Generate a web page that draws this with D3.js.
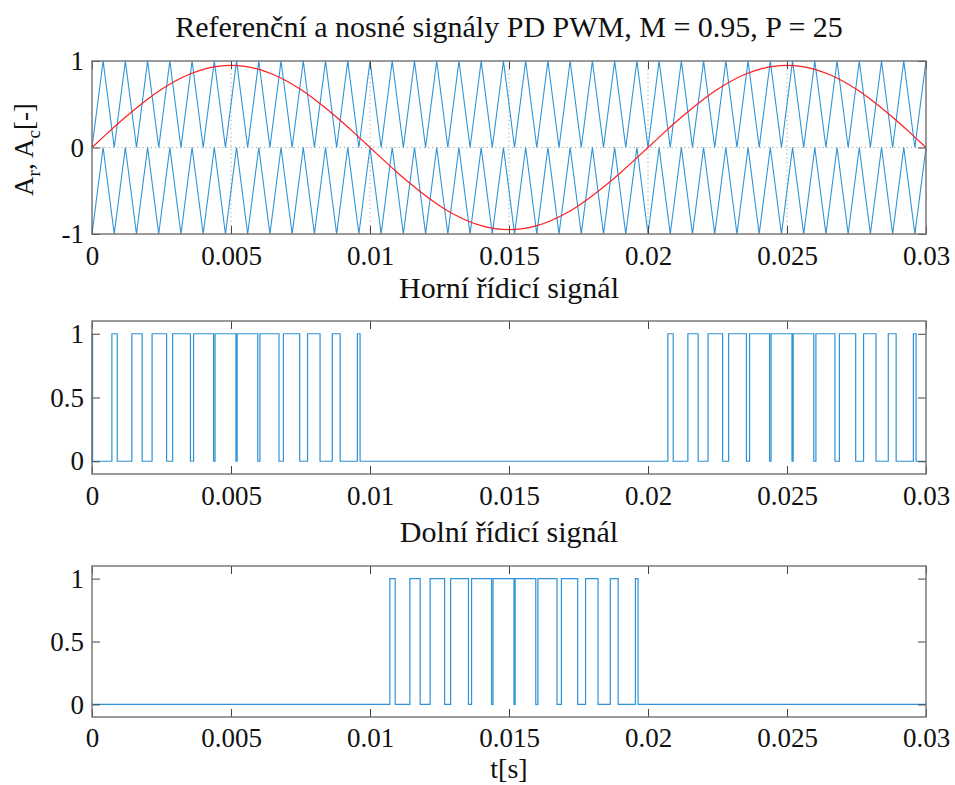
<!DOCTYPE html>
<html>
<head>
<meta charset="utf-8">
<script src="https://cdn.jsdelivr.net/npm/d3@7"></script>
<style>
  body { margin: 0; background: #fff; }
  svg { display: block; }
  text { font-family: "Liberation Serif", "Times New Roman", serif; fill: #111; }
</style>
</head>
<body>
<svg id="chart" width="955" height="785"></svg>
<script>
// ---- axis ticks ----
const timeTicks = [0, 0.005, 0.01, 0.015, 0.02, 0.025, 0.03];
const timeTickLabels = ["0", "0.005", "0.01", "0.015", "0.02", "0.025", "0.03"];
const signalTicks = [-1, 0, 1];
const signalTickLabels = ["-1", "0", "1"];
const gateTicks = [0, 0.5, 1];
const gateTickLabels = ["0", "0.5", "1"];

// ---- reference signal samples (t [s], A_r) ----
const refTime = [
  0, 0.0005, 0.001, 0.0015, 0.002, 0.0025, 0.003, 0.0035, 0.004, 0.0045,
  0.005, 0.0055, 0.006, 0.0065, 0.007, 0.0075, 0.008, 0.0085, 0.009, 0.0095,
  0.01, 0.0105, 0.011, 0.0115, 0.012, 0.0125, 0.013, 0.0135, 0.014, 0.0145,
  0.015, 0.0155, 0.016, 0.0165, 0.017, 0.0175, 0.018, 0.0185, 0.019, 0.0195,
  0.02, 0.0205, 0.021, 0.0215, 0.022, 0.0225, 0.023, 0.0235, 0.024, 0.0245,
  0.025, 0.0255, 0.026, 0.0265, 0.027, 0.0275, 0.028, 0.0285, 0.029, 0.0295,
  0.03
];
const refValue = [
  0, 0.149, 0.294, 0.431, 0.558, 0.672, 0.769, 0.846, 0.904, 0.938,
  0.95, 0.938, 0.904, 0.846, 0.769, 0.672, 0.558, 0.431, 0.294, 0.149,
  0, -0.149, -0.294, -0.431, -0.558, -0.672, -0.769, -0.846, -0.904, -0.938,
  -0.95, -0.938, -0.904, -0.846, -0.769, -0.672, -0.558, -0.431, -0.294, -0.149,
  0, 0.149, 0.294, 0.431, 0.558, 0.672, 0.769, 0.846, 0.904, 0.938,
  0.95, 0.938, 0.904, 0.846, 0.769, 0.672, 0.558, 0.431, 0.294, 0.149,
  0
];

// ---- carrier vertices (t [s]) and levels of the two in-phase carriers ----
const carrierTime = [
  0, 0.0004, 0.0008, 0.0012, 0.0016, 0.002, 0.0024, 0.0028, 0.0032, 0.0036,
  0.004, 0.0044, 0.0048, 0.0052, 0.0056, 0.006, 0.0064, 0.0068, 0.0072, 0.0076,
  0.008, 0.0084, 0.0088, 0.0092, 0.0096, 0.01, 0.0104, 0.0108, 0.0112, 0.0116,
  0.012, 0.0124, 0.0128, 0.0132, 0.0136, 0.014, 0.0144, 0.0148, 0.0152, 0.0156,
  0.016, 0.0164, 0.0168, 0.0172, 0.0176, 0.018, 0.0184, 0.0188, 0.0192, 0.0196,
  0.02, 0.0204, 0.0208, 0.0212, 0.0216, 0.022, 0.0224, 0.0228, 0.0232, 0.0236,
  0.024, 0.0244, 0.0248, 0.0252, 0.0256, 0.026, 0.0264, 0.0268, 0.0272, 0.0276,
  0.028, 0.0284, 0.0288, 0.0292, 0.0296, 0.03
];
const carrierUpper = [
  0, 1, 0, 1, 0, 1, 0, 1, 0, 1, 0, 1, 0, 1, 0, 1, 0, 1, 0, 1,
  0, 1, 0, 1, 0, 1, 0, 1, 0, 1, 0, 1, 0, 1, 0, 1, 0, 1, 0, 1,
  0, 1, 0, 1, 0, 1, 0, 1, 0, 1, 0, 1, 0, 1, 0, 1, 0, 1, 0, 1,
  0, 1, 0, 1, 0, 1, 0, 1, 0, 1, 0, 1, 0, 1, 0, 1
];
const carrierLower = [
  -1, 0, -1, 0, -1, 0, -1, 0, -1, 0, -1, 0, -1, 0, -1, 0, -1, 0, -1, 0,
  -1, 0, -1, 0, -1, 0, -1, 0, -1, 0, -1, 0, -1, 0, -1, 0, -1, 0, -1, 0,
  -1, 0, -1, 0, -1, 0, -1, 0, -1, 0, -1, 0, -1, 0, -1, 0, -1, 0, -1, 0,
  -1, 0, -1, 0, -1, 0, -1, 0, -1, 0, -1, 0, -1, 0, -1, 0
];

// ---- gate signals: switch-on and switch-off instants [s] ----
const upperGateOn = [
  0, 0.000715, 0.001434, 0.002161, 0.0029, 0.003654, 0.004426, 0.005221, 0.00604,
  0.006885, 0.007754, 0.008643, 0.009546,
  0.020715, 0.021434, 0.022161, 0.0229, 0.023654, 0.024426, 0.025221, 0.02604,
  0.026885, 0.027754, 0.028643, 0.029546
];
const upperGateOff = [
  0.00002, 0.000907, 0.001804, 0.002684, 0.003541, 0.004373, 0.005179, 0.005963, 0.006726,
  0.007471, 0.008203, 0.008926, 0.009643,
  0.020907, 0.021804, 0.022684, 0.023541, 0.024373, 0.025179, 0.025963, 0.026726,
  0.027471, 0.028203, 0.028926, 0.029643
];
const lowerGateOn = [
  0.010715, 0.011434, 0.012161, 0.0129, 0.013654, 0.014426, 0.015221, 0.01604,
  0.016885, 0.017754, 0.018643, 0.019546
];
const lowerGateOff = [
  0.010907, 0.011804, 0.012684, 0.013541, 0.014373, 0.015179, 0.015963, 0.016726,
  0.017471, 0.018203, 0.018926, 0.019643
];

// ---- layout ----
const plotLeft = 92, plotRight = 926;
const panels = {
  carriers: { top: 61, bottom: 234, pad: 12 },
  upper: { top: 321, bottom: 474, pad: 12 },
  lower: { top: 566, bottom: 717, pad: 11 }
};
const blue = "#2f93d6";
const red = "#ff1f1f";
const frameColor = "#707070";
const tickColor = "#444";
const serif = '"Liberation Serif", "Times New Roman", serif';
const tickFont = 27;
const titleFont = 30;

const svg = d3.select("#chart");
const x = d3.scaleLinear().domain([0, 0.03]).range([plotLeft, plotRight]);

function drawGrid(g, y, yTicks, p) {
  const gg = g.append("g").attr("stroke", "#9a9a9a").attr("stroke-width", 0.9)
    .attr("stroke-dasharray", "1.2,3");
  timeTicks.slice(1, -1).forEach(t => {
    gg.append("line").attr("x1", x(t)).attr("x2", x(t)).attr("y1", p.top).attr("y2", p.bottom);
  });
  yTicks.slice(1, -1).forEach(v => {
    gg.append("line").attr("x1", plotLeft).attr("x2", plotRight).attr("y1", y(v)).attr("y2", y(v));
  });
}

function drawFrame(g, y, yTicks, yLabels, p) {
  const tickLen = 8;
  const bx = g.append("g").attr("transform", `translate(0,${p.bottom})`)
    .call(d3.axisBottom(x).tickValues(timeTicks).tickFormat((d, i) => timeTickLabels[i])
      .tickSizeInner(-tickLen).tickSizeOuter(0).tickPadding(p.pad));
  const tx = g.append("g").attr("transform", `translate(0,${p.top})`)
    .call(d3.axisTop(x).tickValues(timeTicks).tickFormat("")
      .tickSizeInner(-tickLen).tickSizeOuter(0));
  const ly = g.append("g").attr("transform", `translate(${plotLeft},0)`)
    .call(d3.axisLeft(y).tickValues(yTicks).tickFormat((d, i) => yLabels[i])
      .tickSizeInner(-tickLen).tickSizeOuter(0).tickPadding(8));
  const ry = g.append("g").attr("transform", `translate(${plotRight},0)`)
    .call(d3.axisRight(y).tickValues(yTicks).tickFormat("")
      .tickSizeInner(-tickLen).tickSizeOuter(0));
  [bx, tx, ly, ry].forEach(a => {
    a.select(".domain").remove();
    a.selectAll(".tick line").attr("stroke", tickColor).attr("stroke-width", 1);
    a.selectAll("text").attr("font-size", tickFont).style("font-family", serif).attr("fill", "#111");
  });
  g.append("rect").attr("x", plotLeft).attr("y", p.top)
    .attr("width", plotRight - plotLeft).attr("height", p.bottom - p.top)
    .attr("fill", "none").attr("stroke", frameColor).attr("stroke-width", 1.4);
}

// ---- panel 1: reference and carriers ----
{
  const p = panels.carriers;
  const y = d3.scaleLinear().domain([-1, 1]).range([p.bottom, p.top]);
  const g = svg.append("g");
  drawGrid(g, y, signalTicks, p);
  const line = d3.line().x(d => x(d[0])).y(d => y(d[1]));
  g.append("path").attr("d", line(carrierTime.map((t, i) => [t, carrierUpper[i]])))
    .attr("fill", "none").attr("stroke", blue).attr("stroke-width", 1.1);
  g.append("path").attr("d", line(carrierTime.map((t, i) => [t, carrierLower[i]])))
    .attr("fill", "none").attr("stroke", blue).attr("stroke-width", 1.1);
  const refLine = d3.line().x(d => x(d[0])).y(d => y(d[1])).curve(d3.curveNatural);
  g.append("path").attr("d", refLine(refTime.map((t, i) => [t, refValue[i]])))
    .attr("fill", "none").attr("stroke", red).attr("stroke-width", 1.2);
  drawFrame(svg.append("g"), y, signalTicks, signalTickLabels, p);

  // y label: A_r, A_c[-]
  const yl = svg.append("text")
    .attr("transform", `translate(33,${(p.top + p.bottom) / 2 + 2}) rotate(-90)`)
    .attr("text-anchor", "middle").attr("font-size", tickFont).style("font-family", serif);
  yl.append("tspan").text("A");
  yl.append("tspan").attr("dy", 7).attr("font-size", 19).text("r");
  yl.append("tspan").attr("dy", -7).text(", A");
  yl.append("tspan").attr("dy", 7).attr("font-size", 19).text("c");
  yl.append("tspan").attr("dy", -7).text("[-]");
}

// ---- gate signal panels ----
function gatePanel(p, onTimes, offTimes) {
  const y = d3.scaleLinear().domain([-0.1, 1.1]).range([p.bottom, p.top]);
  const g = svg.append("g");
  const pts = [[0, 0]];
  onTimes.forEach((s, i) => {
    const e = offTimes[i];
    pts.push([s, 0], [s, 1], [e, 1], [e, 0]);
  });
  pts.push([0.03, 0]);
  const line = d3.line().x(d => x(d[0])).y(d => y(d[1]));
  g.append("path").attr("d", line(pts))
    .attr("fill", "none").attr("stroke", blue).attr("stroke-width", 1.2);
  drawFrame(svg.append("g"), y, gateTicks, gateTickLabels, p);
}
gatePanel(panels.upper, upperGateOn, upperGateOff);
gatePanel(panels.lower, lowerGateOn, lowerGateOff);

// ---- titles ----
const cx = (plotLeft + plotRight) / 2;
function title(text, yPos, size) {
  svg.append("text").attr("x", cx).attr("y", yPos).attr("text-anchor", "middle")
    .attr("font-size", size || titleFont).style("font-family", serif).text(text);
}
title("Referenční a nosné signály PD PWM, M = 0.95, P = 25", 37);
title("Horní řídicí signál", 298);
title("Dolní řídicí signál", 542);
title("t[s]", 778, 28);
</script>
</body>
</html>
